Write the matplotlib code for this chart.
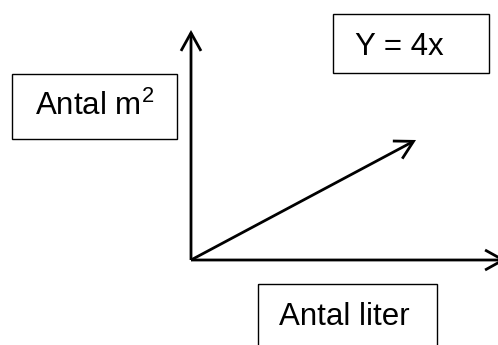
import matplotlib.pyplot as plt
from matplotlib.patches import Rectangle, FancyArrowPatch

plt.rcParams['font.family'] = ['Liberation Sans', 'DejaVu Sans']
plt.rcParams['mathtext.fontset'] = 'custom'
plt.rcParams['mathtext.rm'] = 'Liberation Sans'

# ========================
# DIAGRAM DATA (pixel space of the 498x345 picture)
# ========================
ORIGIN = (191, 260)
Y_AXIS_TOP = (191, 30)
X_AXIS_END = (506, 260)
LINE_TIP = (416, 140)

# label boxes: (x0, y0, x1, y1)
BOX_Y = (12, 74, 177, 139)
BOX_EQ = (333, 14, 489, 73)
BOX_X = (258, 284, 437, 347)

LABEL_Y = r"Antal m$^{\mathregular{2}}$"
LABEL_EQ = "Y = 4x"
LABEL_X = "Antal liter"

FONT_SIZE = 22.5
HEAD = "->,head_length=13,head_width=7.2"

fig = plt.figure(figsize=(4.98, 3.45), dpi=100)
ax = fig.add_axes([0, 0, 1, 1])
ax.set_xlim(0, 498)
ax.set_ylim(345, 0)
ax.set_axis_off()


def arrow(start, end):
    ax.add_patch(FancyArrowPatch(start, end, arrowstyle=HEAD, mutation_scale=1,
                                 lw=2.0, color="black", shrinkA=0, shrinkB=0,
                                 capstyle="butt", joinstyle="miter"))


def box(b):
    x0, y0, x1, y1 = b
    ax.add_patch(Rectangle((x0, y0), x1 - x0, y1 - y0, fill=False,
                           edgecolor="black", lw=1.0))


arrow(ORIGIN, Y_AXIS_TOP)
arrow(ORIGIN, X_AXIS_END)
arrow(ORIGIN, LINE_TIP)

box(BOX_Y)
box(BOX_EQ)
box(BOX_X)

ax.text((BOX_Y[0] + BOX_Y[2]) / 2, 115, LABEL_Y, fontsize=FONT_SIZE,
        ha="center", va="baseline")
ax.text(355, 55, LABEL_EQ, fontsize=FONT_SIZE, ha="left", va="baseline")
ax.text((BOX_X[0] + BOX_X[2]) / 2 - 3, 325, LABEL_X, fontsize=FONT_SIZE,
        ha="center", va="baseline")

fig.savefig("out.png", dpi=100, facecolor="white")
